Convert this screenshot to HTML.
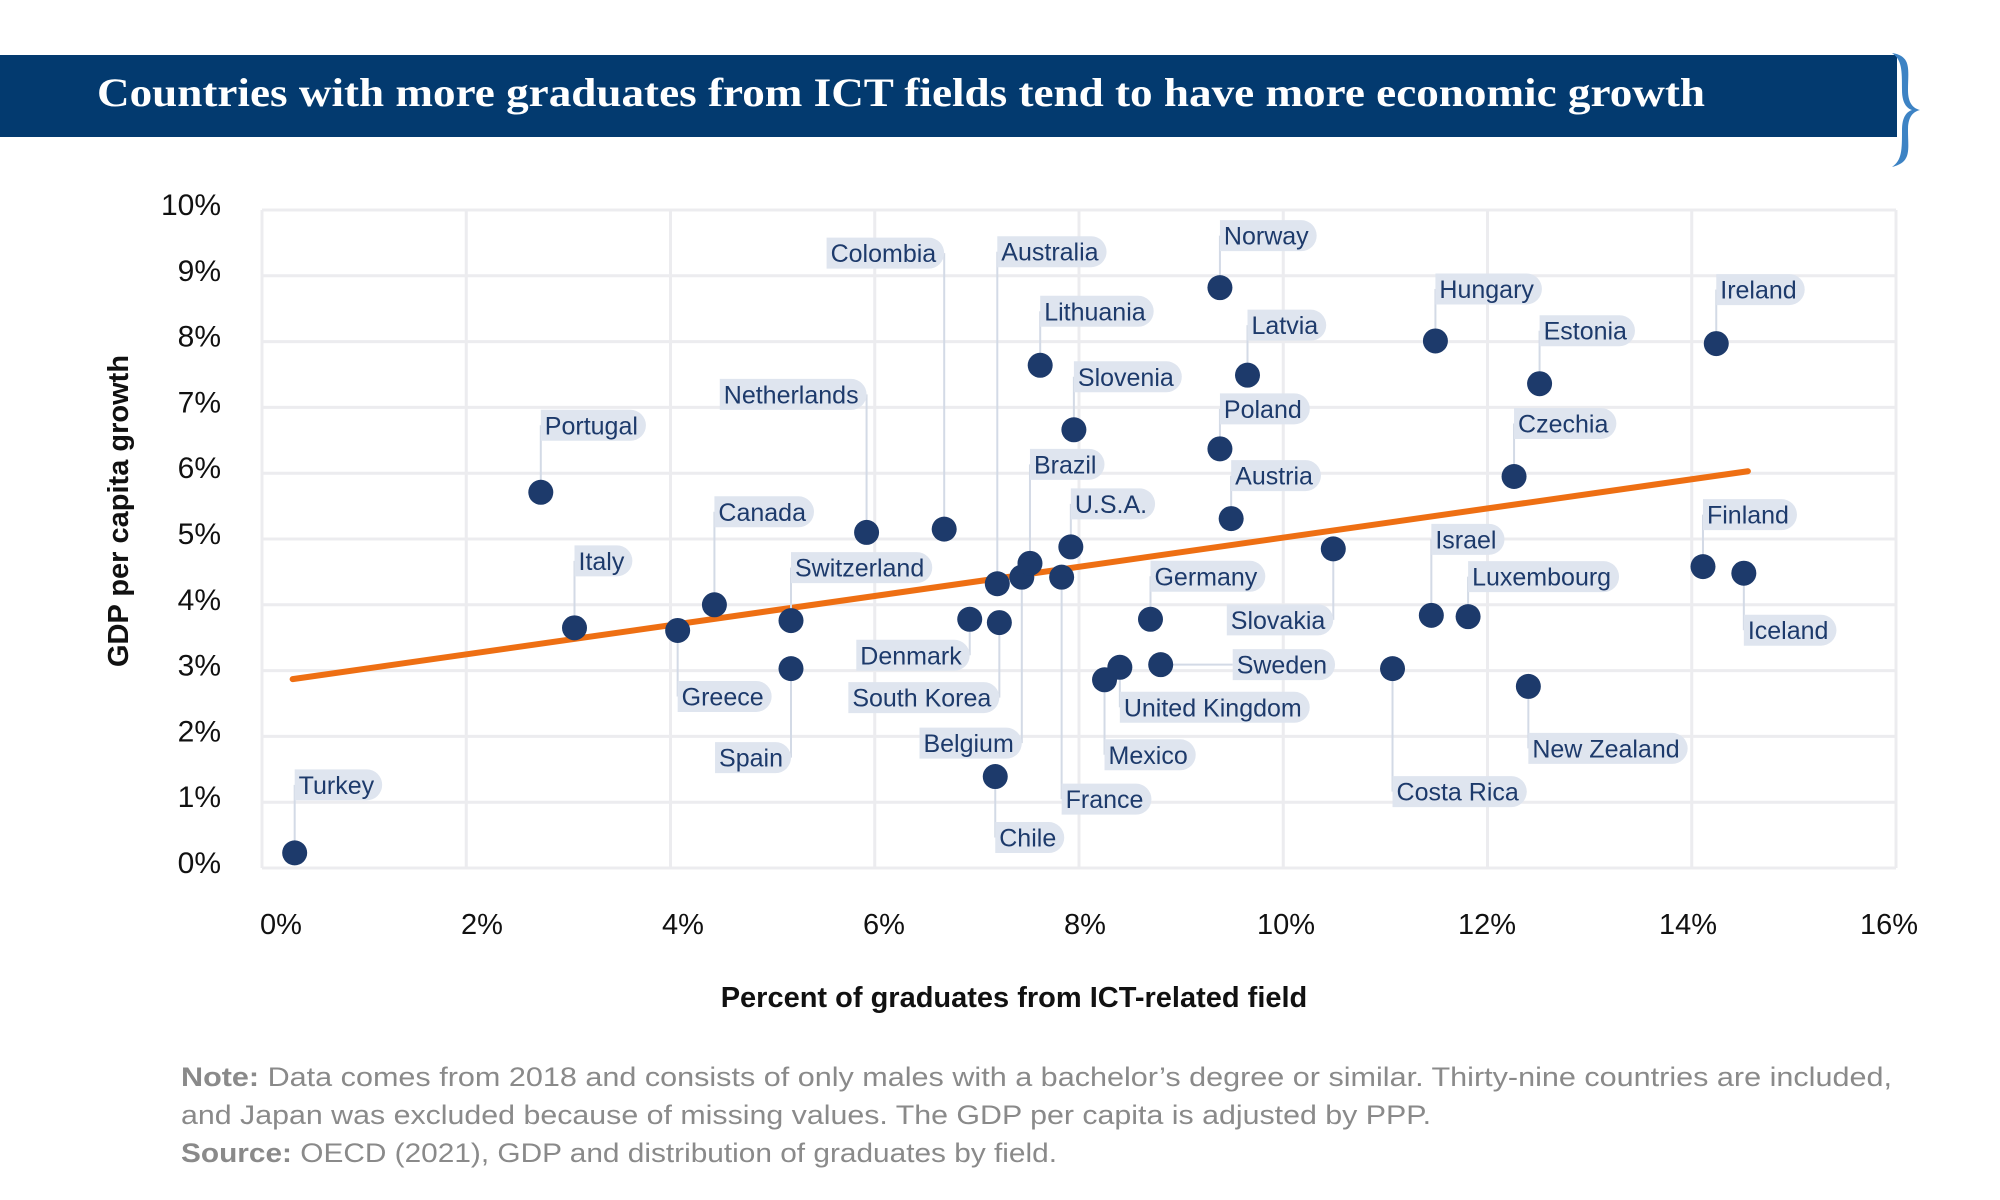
<!DOCTYPE html>
<html><head><meta charset="utf-8"><style>
html,body{margin:0;padding:0;background:#fff}
svg{display:block}
text{font-family:"Liberation Sans",sans-serif}
</style></head><body>
<svg id="chart" width="2000" height="1200" viewBox="0 0 2000 1200">
<rect x="0" y="55" width="1897" height="82" fill="#033a6f"/>
<path d="M1892 53 C1912 56,1908 70,1908 90 C1908 102,1912 108,1920 110 C1912 112,1908 118,1908 130 C1908 150,1912 162,1892 167 C1902 160,1902 150,1902 130 C1902 118,1906 112,1912 110 C1906 108,1902 102,1902 90 C1902 70,1902 60,1892 53Z" fill="#3d83c4"/>
<text x="97" y="106" fill="#fff" font-size="40" font-weight="bold" style="font-family:'Liberation Serif',serif" textLength="1608" lengthAdjust="spacingAndGlyphs">Countries with more graduates from ICT fields tend to have more economic growth</text>
<g id="grid"></g>
<g id="trend"></g>
<g id="leaders"></g>
<g id="labels"></g>
<g id="dots"></g>
<g id="ticks"></g>
<text x="1014" y="1007" text-anchor="middle" font-size="29" font-weight="bold" fill="#111">Percent of graduates from ICT-related field</text>
<text transform="translate(128,511) rotate(-90)" text-anchor="middle" font-size="29" font-weight="bold" fill="#111">GDP per capita growth</text>
<text x="181" y="1086" font-size="27" fill="#8a8a8a" textLength="1711" lengthAdjust="spacingAndGlyphs"><tspan font-weight="bold">Note:</tspan> Data comes from 2018 and consists of only males with a bachelor’s degree or similar. Thirty-nine countries are included,</text>
<text x="181" y="1124" font-size="27" fill="#8a8a8a" textLength="1250" lengthAdjust="spacingAndGlyphs">and Japan was excluded because of missing values. The GDP per capita is adjusted by PPP.</text>
<text x="181" y="1162" font-size="27" fill="#8a8a8a" textLength="876" lengthAdjust="spacingAndGlyphs"><tspan font-weight="bold">Source:</tspan> OECD (2021), GDP and distribution of graduates by field.</text>
</svg>
<script>
const countries=["Turkey","Portugal","Italy","Greece","Canada","Spain","Switzerland","Netherlands","Colombia","Denmark","South Korea","Belgium","Chile","Australia","Lithuania","Brazil","U.S.A.","Slovenia","France","Mexico","United Kingdom","Germany","Sweden","Norway","Poland","Latvia","Austria","Slovakia","Costa Rica","Israel","Hungary","Luxembourg","Czechia","New Zealand","Estonia","Finland","Ireland","Iceland"];
const ictShare=[0.32,2.73,3.06,4.07,4.43,5.18,5.18,5.92,6.68,6.93,7.22,7.44,7.18,7.20,7.62,7.52,7.92,7.95,7.83,8.25,8.40,8.70,8.80,9.38,9.38,9.65,9.49,10.49,11.07,11.45,11.49,11.81,12.26,12.40,12.51,14.11,14.24,14.51];
const gdpGrowth=[0.23,5.71,3.65,3.61,4.00,3.03,3.76,5.10,5.15,3.78,3.73,4.42,1.39,4.32,7.64,4.63,4.88,6.66,4.42,2.86,3.05,3.78,3.09,8.82,6.37,7.49,5.31,4.85,3.03,3.84,8.01,3.82,5.95,2.76,7.36,4.58,7.97,4.48];
const trendX=[0.3,14.55];
const trendY=[2.87,6.03];
const xTicks=[0,2,4,6,8,10,12,14,16];
const xTickLabels=["0%","2%","4%","6%","8%","10%","12%","14%","16%"];
const yTicks=[0,1,2,3,4,5,6,7,8,9,10];
const yTickLabels=["0%","1%","2%","3%","4%","5%","6%","7%","8%","9%","10%"];
// label layout (pixel offsets from dot; align l/r/h)
const labelLayout=[[-68,"l"],[-67,"l"],[-67,"l"],[66,"l"],[-93,"l"],[89,"r"],[-53,"l"],[-138,"r"],[-276,"r"],[36,"r"],[75,"r"],[166,"r"],[61,"l"],[-332,"l"],[-54,"l"],[-99,"l"],[-43,"l"],[-53,"l"],[222,"l"],[75,"l"],[40,"l"],[-43,"l"],[0,"h"],[-52,"l"],[-40,"l"],[-50,"l"],[-43,"l"],[71,"r"],[123,"l"],[-76,"l"],[-52,"l"],[-40,"l"],[-53,"l"],[62,"l"],[-53,"l"],[-52,"l"],[-54,"l"],[57,"l"]];

const NS="http://www.w3.org/2000/svg";
const X0=262,X1=1896,Y0=868,Y1=210;
const xs=v=>X0+(v-0)*(X1-X0)/16;
const ys=v=>Y0-(v-0)*(Y0-Y1)/10;
const xl=v=>281+v*(1608/16);
function mk(tag,attrs,parent){const e=document.createElementNS(NS,tag);for(const k in attrs)e.setAttribute(k,attrs[k]);parent.appendChild(e);return e;}
const grid=document.getElementById('grid'),ticks=document.getElementById('ticks');
xTicks.forEach((t,i)=>{
  const l=mk('line',{x1:xs(t),x2:xs(t),y1:Y1,y2:Y0,stroke:'#ececef','stroke-width':3},grid);
  
  
  const tx=mk('text',{x:xl(t),y:934,'text-anchor':'middle','font-size':29,fill:'#111'},ticks);
  tx.textContent=xTickLabels[i];
  
  
});
yTicks.forEach((t,i)=>{
  const l=mk('line',{x1:X0,x2:X1,y1:ys(t),y2:ys(t),stroke:'#ececef','stroke-width':3},grid);
  
  
  const tx=mk('text',{x:221,y:ys(t)+5,'text-anchor':'end','font-size':30,fill:'#111'},ticks);
  tx.textContent=yTickLabels[i];
  
  
});
const tl=mk('line',{x1:xs(trendX[0]),y1:ys(trendY[0]),x2:xs(trendX[1]),y2:ys(trendY[1]),stroke:'#ee6f13','stroke-width':6,'stroke-linecap':'round'},document.getElementById('trend'));


const leaders=document.getElementById('leaders'),labels=document.getElementById('labels'),dots=document.getElementById('dots');
countries.forEach((c,i)=>{
  const cx=xs(ictShare[i]),cy=ys(gdpGrowth[i]);
  const [dy,al]=labelLayout[i];
  const ly=cy+dy;
  let lx=cx;
  if(al==="h"){lx=cx+72;const ln=mk('line',{x1:cx,y1:cy,x2:lx,y2:ly,stroke:'#d3dae6','stroke-width':2},leaders);}
  else{const ln=mk('line',{x1:cx,y1:cy,x2:cx,y2:ly,stroke:'#d3dae6','stroke-width':2},leaders);}
  const g=mk('g',{},labels);
  
  
  const bg=mk('path',{fill:'#dfe5ef'},g);
  const t=mk('text',{y:ly+9,'font-size':25,fill:'#1d3a6b'},g);
  t.textContent=c;
  const w=t.getComputedTextLength();
  const bw=w+12,h=31,r=15.5;
  const bx=(al==="r")?lx-bw:lx;
  t.setAttribute('x',bx+4);
  bg.setAttribute('d',`M${bx} ${ly-h/2} H${bx+bw-r} A${r} ${r} 0 0 1 ${bx+bw-r} ${ly+h/2} H${bx} Z`);
  const d=mk('circle',{cx:cx,cy:cy,r:12.5,fill:'#1d3a6b'},dots);
  
  
});
</script>
</body></html>
